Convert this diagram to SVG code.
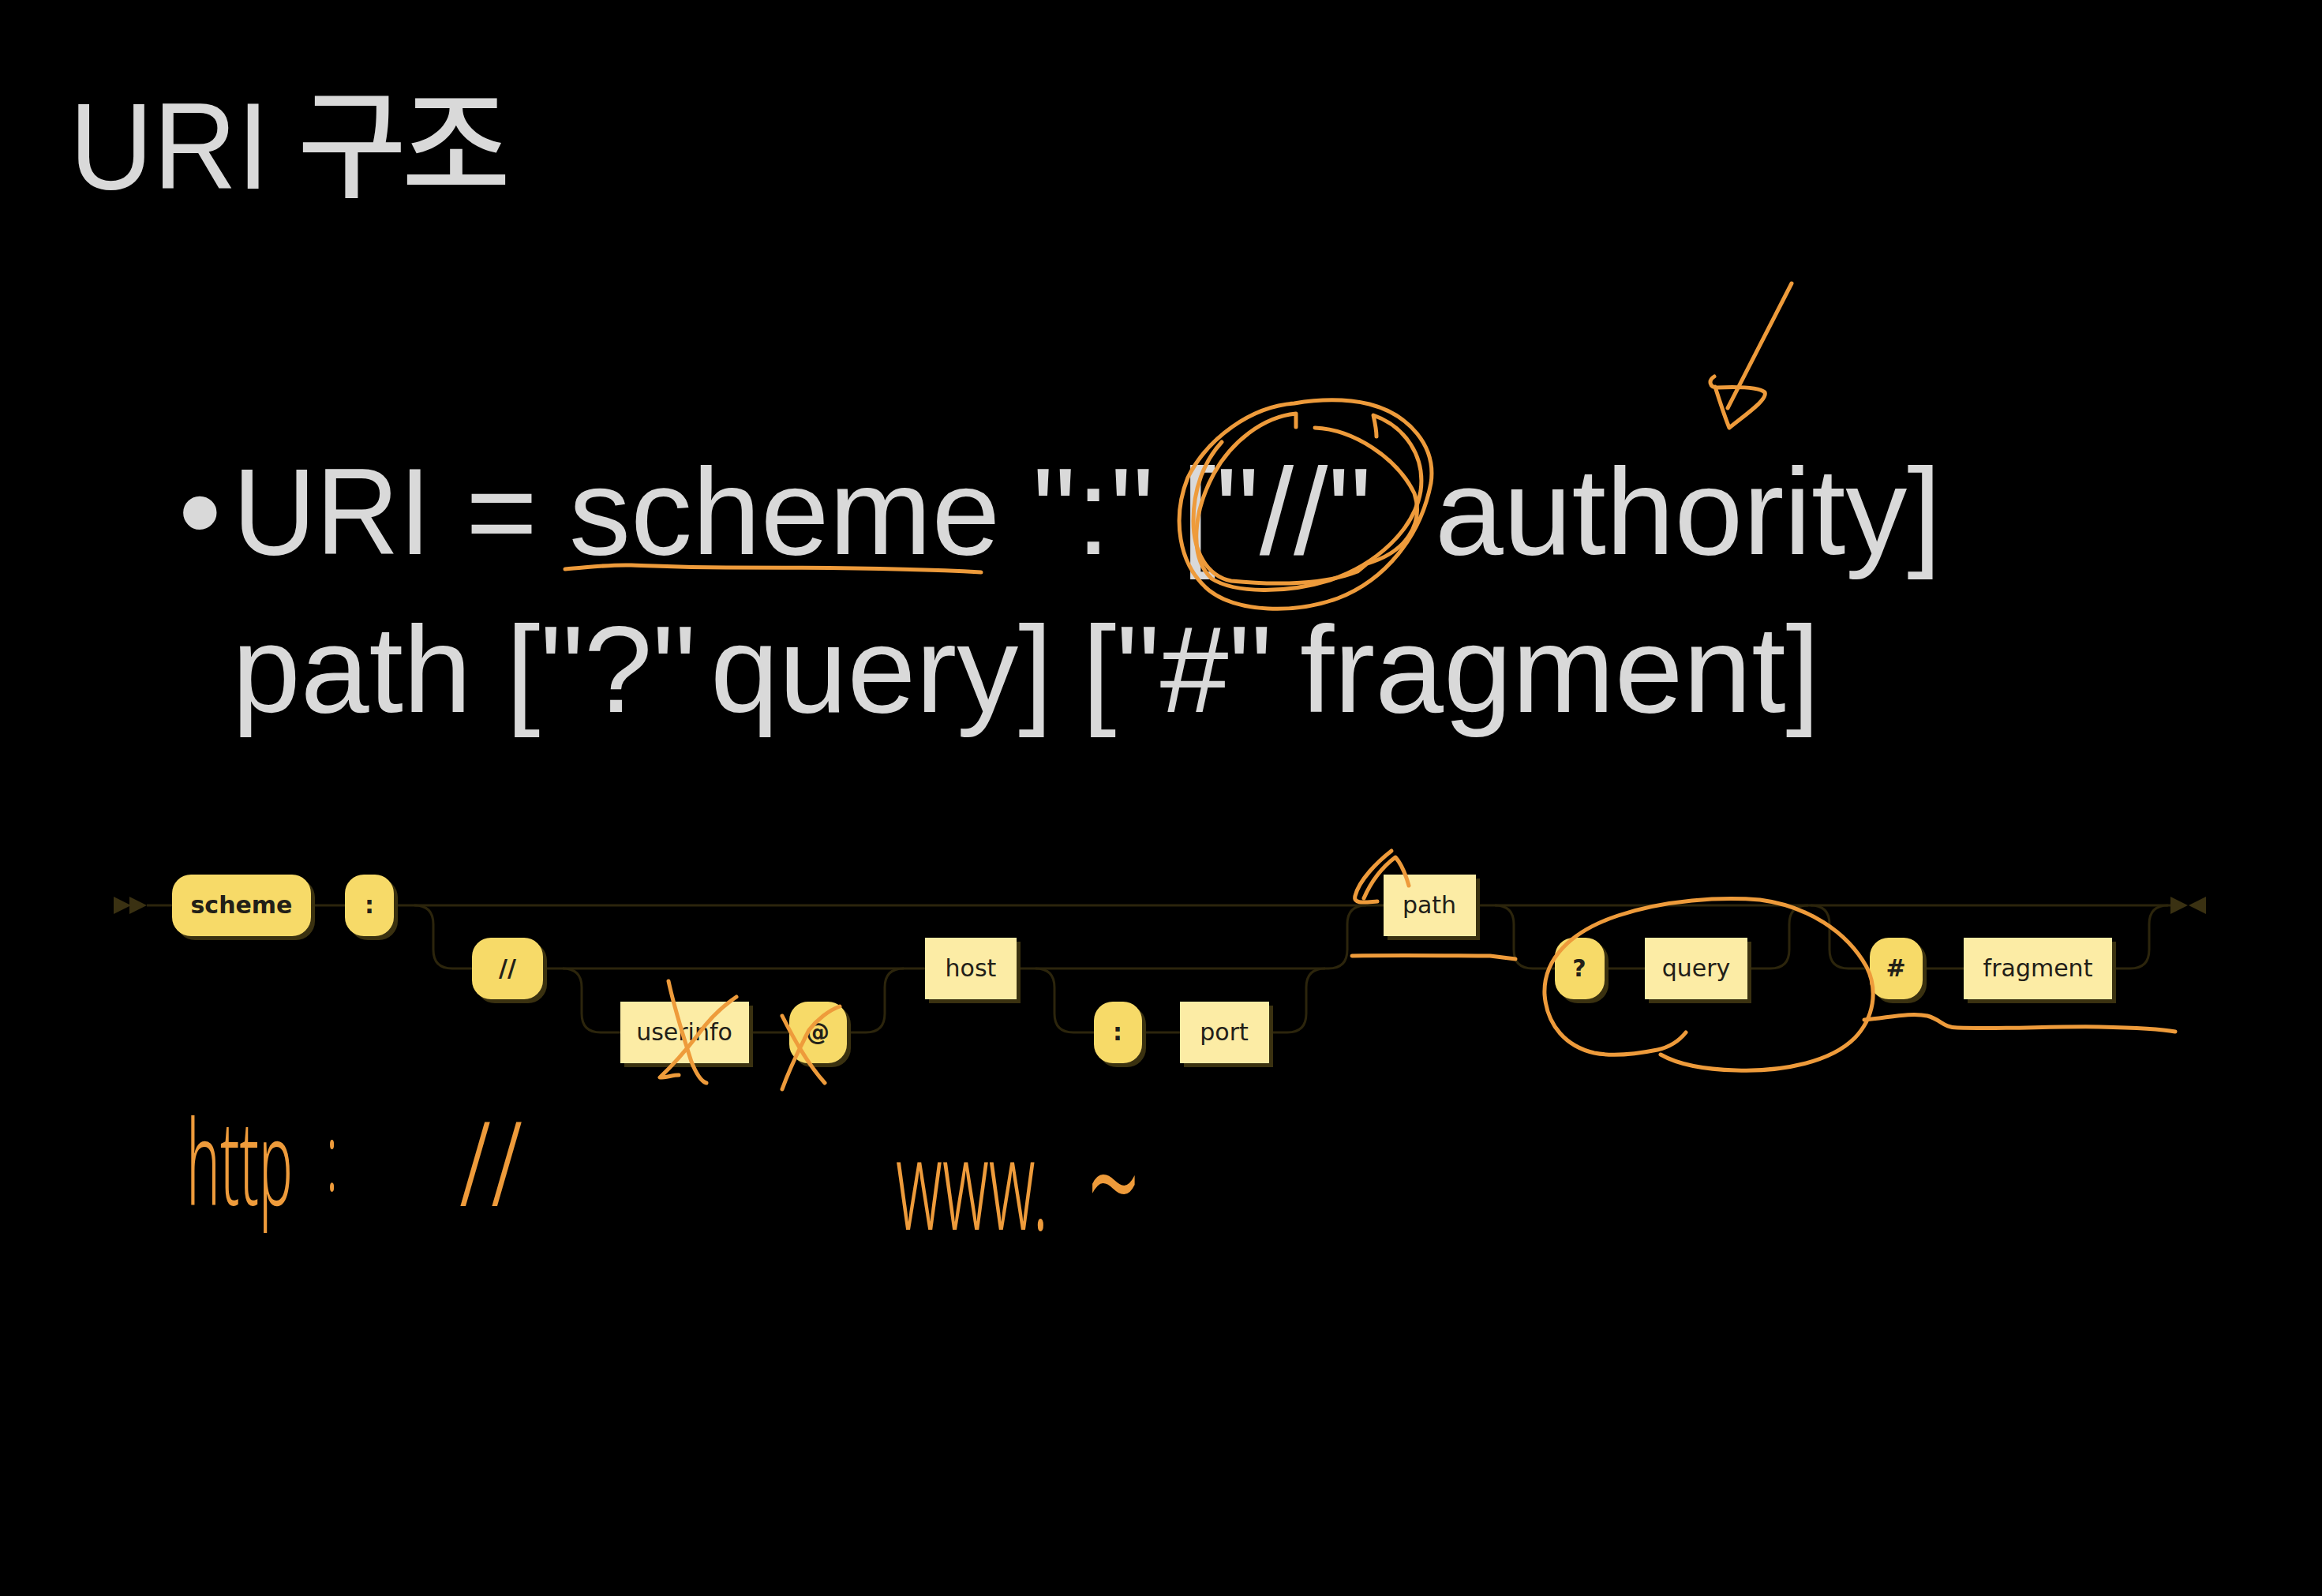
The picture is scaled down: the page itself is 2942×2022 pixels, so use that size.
<svg xmlns="http://www.w3.org/2000/svg" width="2942" height="2022" viewBox="0 0 2942 2022">
  <style>
    .t { font-family: "Liberation Sans", Arial, sans-serif; font-size: 156px; fill: #d9d9d9; }
    .ko { font-family: "Noto Sans CJK KR", "Noto Sans CJK SC", sans-serif; font-size: 150px; font-weight: 500; fill: #d9d9d9; }
    .sh { fill: #3a3110; }
    .term { fill: #f7da68; }
    .nt { fill: #fceca5; }
    .lbl { font-family: "DejaVu Sans", Verdana, sans-serif; font-size: 30px; fill: #222018; text-anchor: middle; }
    .b { font-weight: bold; }
    .conn path { fill: none; stroke: #2c250c; stroke-width: 3; }
    .mark { fill: #3a3112; }
    .ink { fill: none; stroke: #ee9b3b; stroke-width: 5; stroke-linecap: round; stroke-linejoin: round; }
    .hand { font-family: "Noto Sans", "DejaVu Sans", sans-serif; font-weight: 300; fill: #ee9b3b; }
  </style>

  <rect width="2942" height="2022" fill="#000"/>

  <!-- heading -->
  <g id="title">
    <text class="t" x="88" y="239" textLength="253" lengthAdjust="spacingAndGlyphs">URI</text>
    <text class="ko" y="238"><tspan x="377">구</tspan><tspan x="509">조</tspan></text>
  </g>

  <!-- grammar line -->
  <g id="grammar">
    <text class="t" y="702"><tspan x="226">•</tspan><tspan x="295" textLength="251" lengthAdjust="spacingAndGlyphs">URI</tspan><tspan x="590">=</tspan><tspan x="721">scheme</tspan><tspan x="1308">":"</tspan><tspan x="1497">["//"</tspan><tspan x="1818">authority]</tspan></text>
    <text class="t" y="902"><tspan x="294">path</tspan><tspan x="641">["?"</tspan><tspan x="900">query]</tspan><tspan x="1371">["#"</tspan><tspan x="1647">fragment]</tspan></text>
  </g>

  <!-- railroad connectors -->
  <g id="connectors" class="conn">
    <polygon class="mark" points="144,1136 166,1147 144,1158"/>
    <polygon class="mark" points="164,1136 186,1147 164,1158"/>
    <path d="M186,1147 H218"/>
    <path d="M394,1147 H437"/>
    <path d="M499,1147 H1753"/>
    <path d="M1870,1147 H2750"/>
    <path d="M525,1147 q24,0 24,24 V1203 q0,24 24,24 H598"/>
    <path d="M688,1227 H1172"/>
    <path d="M713,1227 q24,0 24,24 V1284 q0,24 24,24 H786"/>
    <path d="M949,1308 H1000"/>
    <path d="M1073,1308 H1097 q24,0 24,-24 V1251 q0,-24 24,-24"/>
    <path d="M1288,1227 H1683 q24,0 24,-24 V1171 q0,-24 24,-24"/>
    <path d="M1312,1227 q24,0 24,24 V1284 q0,24 24,24 H1386"/>
    <path d="M1447,1308 H1495"/>
    <path d="M1608,1308 H1631 q24,0 24,-24 V1251 q0,-24 24,-24"/>
    <path d="M1894,1147 q24,0 24,24 V1203 q0,24 24,24 H1970"/>
    <path d="M2033,1227 H2084"/>
    <path d="M2214,1227 H2243 q24,0 24,-24 V1171 q0,-24 24,-24"/>
    <path d="M2294,1147 q24,0 24,24 V1203 q0,24 24,24 H2369"/>
    <path d="M2436,1227 H2488"/>
    <path d="M2676,1227 H2699 q24,0 24,-24 V1171 q0,-24 24,-24"/>
    <polygon class="mark" points="2750,1136 2772,1147 2750,1158"/>
    <polygon class="mark" points="2795,1136 2773,1147 2795,1158"/>
  </g>

  <!-- railroad nodes -->
  <g id="n-scheme">
    <rect class="sh" x="223" y="1113" width="176" height="78" rx="24"/>
    <rect class="term" x="218" y="1108" width="176" height="78" rx="24"/>
    <text class="lbl b" x="306" y="1157">scheme</text>
  </g>
  <g id="n-colon1">
    <rect class="sh" x="442" y="1113" width="62" height="78" rx="24"/>
    <rect class="term" x="437" y="1108" width="62" height="78" rx="24"/>
    <text class="lbl b" x="468" y="1157">:</text>
  </g>
  <g id="n-slashes">
    <rect class="sh" x="603" y="1193" width="90" height="78" rx="24"/>
    <rect class="term" x="598" y="1188" width="90" height="78" rx="24"/>
    <text class="lbl b" x="643" y="1237">//</text>
  </g>
  <g id="n-userinfo">
    <rect class="sh" x="791" y="1274" width="163" height="78"/>
    <rect class="nt" x="786" y="1269" width="163" height="78"/>
    <text class="lbl" x="867" y="1318">userinfo</text>
  </g>
  <g id="n-at">
    <rect class="sh" x="1005" y="1274" width="73" height="78" rx="24"/>
    <rect class="term" x="1000" y="1269" width="73" height="78" rx="24"/>
    <text class="lbl b" x="1036" y="1318">@</text>
  </g>
  <g id="n-host">
    <rect class="sh" x="1177" y="1193" width="116" height="78"/>
    <rect class="nt" x="1172" y="1188" width="116" height="78"/>
    <text class="lbl" x="1230" y="1237">host</text>
  </g>
  <g id="n-colon2">
    <rect class="sh" x="1391" y="1274" width="61" height="78" rx="24"/>
    <rect class="term" x="1386" y="1269" width="61" height="78" rx="24"/>
    <text class="lbl b" x="1416" y="1318">:</text>
  </g>
  <g id="n-port">
    <rect class="sh" x="1500" y="1274" width="113" height="78"/>
    <rect class="nt" x="1495" y="1269" width="113" height="78"/>
    <text class="lbl" x="1551" y="1318">port</text>
  </g>
  <g id="n-path">
    <rect class="sh" x="1758" y="1113" width="117" height="78"/>
    <rect class="nt" x="1753" y="1108" width="117" height="78"/>
    <text class="lbl" x="1811" y="1157">path</text>
  </g>
  <g id="n-question">
    <rect class="sh" x="1975" y="1193" width="63" height="78" rx="24"/>
    <rect class="term" x="1970" y="1188" width="63" height="78" rx="24"/>
    <text class="lbl b" x="2001" y="1237">?</text>
  </g>
  <g id="n-query">
    <rect class="sh" x="2089" y="1193" width="130" height="78"/>
    <rect class="nt" x="2084" y="1188" width="130" height="78"/>
    <text class="lbl" x="2149" y="1237">query</text>
  </g>
  <g id="n-hash">
    <rect class="sh" x="2374" y="1193" width="67" height="78" rx="24"/>
    <rect class="term" x="2369" y="1188" width="67" height="78" rx="24"/>
    <text class="lbl b" x="2402" y="1237">#</text>
  </g>
  <g id="n-fragment">
    <rect class="sh" x="2493" y="1193" width="188" height="78"/>
    <rect class="nt" x="2488" y="1188" width="188" height="78"/>
    <text class="lbl" x="2582" y="1237">fragment</text>
  </g>

  <!-- pen annotations -->
  <g id="annotations" class="ink">
    <!-- underline: scheme -->
    <path d="M716,721 C745,719 770,715 800,716 C835,717 860,719 920,719 C1020,719 1150,720 1243,725"/>
    <!-- loops round ["//"] -->
    <path d="M1640,511 C1585,515 1530,555 1505,605 C1485,655 1492,715 1532,748 C1568,776 1640,778 1695,758 C1755,735 1800,680 1813,612 C1820,565 1785,525 1735,512 C1705,505 1670,506 1640,511"/>
    <path d="M1642,541 L1642,524 C1600,528 1560,560 1538,600 C1512,648 1506,705 1535,733 C1565,752 1630,752 1685,735 C1745,715 1792,670 1800,622 C1806,578 1780,540 1740,526 C1742,535 1744,545 1744,553"/>
    <path d="M1666,542 C1715,544 1770,580 1792,625 C1805,665 1780,700 1732,714 L1720,724 C1680,740 1620,742 1560,736 C1530,730 1512,700 1512,660 C1512,620 1525,585 1548,560"/>
    <!-- arrow toward authority -->
    <path d="M2270,359 L2189,517"/>
    <path d="M2172,477 C2164,482 2166,491 2176,491 C2200,490 2228,490 2236,497 C2240,506 2212,525 2191,542 C2184,525 2178,505 2173,490"/>
    <!-- mark on path -->
    <path d="M1745,1142 C1730,1143 1714,1146 1717,1135 C1722,1115 1745,1092 1763,1078"/>
    <path d="M1728,1138 C1738,1115 1752,1098 1768,1086 C1776,1095 1781,1108 1785,1122"/>
    <path d="M1713,1211 C1780,1210 1850,1211 1888,1211 L1920,1215"/>
    <!-- loop round ? query, with tail under # fragment -->
    <path d="M2136,1308 C2128,1318 2118,1326 2100,1330 C2070,1336 2040,1338 2020,1334 C1985,1326 1960,1300 1957,1260 C1955,1215 1990,1180 2050,1160 C2110,1140 2180,1136 2230,1140 C2290,1148 2340,1180 2365,1225 C2380,1255 2374,1290 2350,1315 C2320,1345 2260,1358 2200,1356 C2160,1355 2125,1348 2104,1336"/>
    <path d="M2362,1292 C2390,1290 2420,1282 2442,1287 C2460,1292 2462,1302 2480,1302 C2540,1304 2600,1300 2660,1301 C2710,1302 2740,1304 2756,1307"/>
    <!-- strike-outs -->
    <path d="M847,1243 C855,1280 868,1320 876,1345 C882,1360 888,1370 895,1372"/>
    <path d="M933,1263 C915,1275 898,1292 885,1310 C868,1332 852,1350 836,1365 C845,1365 852,1362 860,1362"/>
    <path d="M991,1287 C1005,1315 1025,1350 1045,1372"/>
    <path d="M1064,1275 C1050,1280 1035,1292 1025,1305 C1012,1330 1000,1355 991,1380"/>
  </g>

  <!-- pen notes: narrow, tall handwriting -->
  <g id="notes">
    <text class="hand" font-size="150" transform="translate(236,1527) scale(0.48,1)"><tspan x="0">http</tspan><tspan x="370" font-size="120" dy="-18">:</tspan></text>
    <text class="hand" x="582" y="1528" font-size="150" textLength="80" lengthAdjust="spacingAndGlyphs">//</text>
    <text class="hand" font-size="160" transform="translate(1135,1558) scale(0.5,1)"><tspan x="0">www.</tspan><tspan x="486" font-size="230" dy="24">~</tspan></text>
  </g>
</svg>
